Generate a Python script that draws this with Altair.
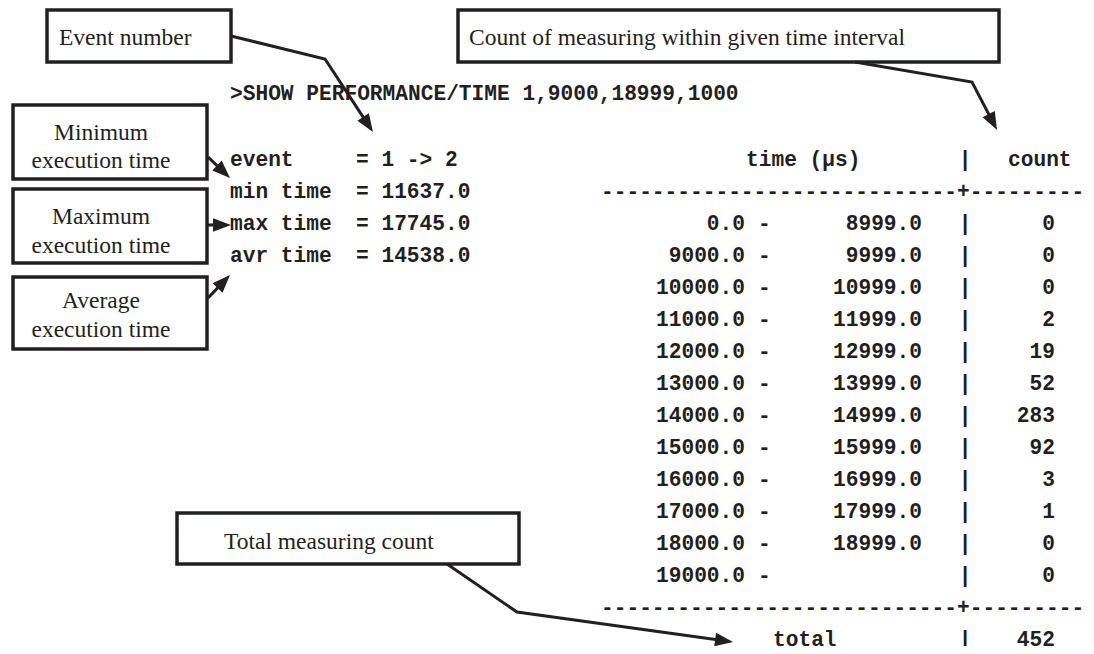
import math
import altair as alt
import pandas as pd

# ---------------- content ----------------
command = ">SHOW PERFORMANCE/TIME 1,9000,18999,1000"
stat_labels = ["event", "min time", "max time", "avr time"]
stat_values = ["= 1 -> 2", "= 11637.0", "= 17745.0", "= 14538.0"]
range_start = ["0.0", "9000.0", "10000.0", "11000.0", "12000.0", "13000.0",
               "14000.0", "15000.0", "16000.0", "17000.0", "18000.0", "19000.0"]
range_end = ["8999.0", "9999.0", "10999.0", "11999.0", "12999.0", "13999.0",
             "14999.0", "15999.0", "16999.0", "17999.0", "18999.0", ""]
counts = [0, 0, 0, 2, 19, 52, 283, 92, 3, 1, 0, 0]
total_label = "total"
total_count = 452
header_time = "time (\u00b5s)"
header_count = "count"
rule_text = "-" * 28 + "+" + "-" * 9

callout_texts = [
    ["Event number"],
    ["Count of measuring within given time interval"],
    ["Minimum", "execution time"],
    ["Maximum", "execution time"],
    ["Average", "execution time"],
    ["Total measuring count"],
]

# ---------------- layout (pixel positions of the page) ----------------
INK = "#231f20"
MONO = "Liberation Mono"
SERIF = "Liberation Serif"
MONO_SIZE = 21.2
SERIF_SIZE = 23.5
Y0, LH = 166, 32  # baseline of first table line, line height

box_geom = [  # x, x2, y, y2
    (47, 231, 10, 62),
    (458, 999, 10, 62),
    (13, 207, 105, 179),
    (13, 207, 189, 263),
    (13, 207, 277, 349),
    (177, 519, 513, 564),
]
callout_text_pos = [  # (x, [baselines], align)
    (59, [45], "left"),
    (469, [45], "left"),
    (101, [140, 168], "center"),
    (101, [224, 253], "center"),
    (101, [308, 337], "center"),
    (224, [549], "left"),
]
arrow_paths = [
    [(231, 36), (325, 59), (373, 132)],
    [(855, 62), (972, 82), (997, 130)],
    [(208, 157), (230, 178)],
    [(207, 225), (231, 225)],
    [(208, 298), (230, 275)],
    [(447, 564), (517, 612), (733, 642)],
]
HEAD_LEN = 18

# ---------------- build tables ----------------
mono_rows = []  # text, x, y, align
mono_rows.append((command, 230, 100, "left"))
for i, (lab, val) in enumerate(zip(stat_labels, stat_values)):
    mono_rows.append((lab, 230, Y0 + LH * i, "left"))
    mono_rows.append((val, 356, Y0 + LH * i, "left"))
mono_rows.append((header_time, 746, Y0, "left"))
mono_rows.append(("|", 965, Y0, "center"))
mono_rows.append((header_count, 1008, Y0, "left"))
mono_rows.append((rule_text, 601, Y0 + LH, "left"))
for i, (s, e, c) in enumerate(zip(range_start, range_end, counts)):
    yy = Y0 + LH * (2 + i)
    mono_rows.append((s, 745, yy, "right"))
    mono_rows.append(("-", 758, yy, "left"))
    if e:
        mono_rows.append((e, 922, yy, "right"))
    mono_rows.append(("|", 965, yy, "center"))
    mono_rows.append((str(c), 1055, yy, "right"))
n = len(range_start)
mono_rows.append((rule_text, 601, Y0 + LH * (2 + n), "left"))
mono_rows.append((total_label, 773, Y0 + LH * (3 + n), "left"))
mono_rows.append(("|", 965, Y0 + LH * (3 + n), "center"))
mono_rows.append((str(total_count), 1055, Y0 + LH * (3 + n), "right"))
mono_df = pd.DataFrame(mono_rows, columns=["text", "x", "y", "align"])

serif_rows = []
for lines, (x, ys, al) in zip(callout_texts, callout_text_pos):
    for t, yy in zip(lines, ys):
        serif_rows.append((t, x, yy, al))
serif_df = pd.DataFrame(serif_rows, columns=["text", "x", "y", "align"])

box_df = pd.DataFrame(box_geom, columns=["x", "x2", "y", "y2"])

line_rows, head_rows = [], []
for k, pts in enumerate(arrow_paths):
    (ax, ay), (bx, by) = pts[-2], pts[-1]
    dx, dy = bx - ax, by - ay
    L = math.hypot(dx, dy)
    ux, uy = dx / L, dy / L
    shortened = pts[:-1] + [(bx - ux * (HEAD_LEN - 4), by - uy * (HEAD_LEN - 4))]
    for j, (px, py) in enumerate(shortened):
        line_rows.append((k, j, px, py))
    ang = math.degrees(math.atan2(dx, -dy)) % 360
    head_rows.append((bx, by, ang))
line_df = pd.DataFrame(line_rows, columns=["id", "seq", "x", "y"])
head_df = pd.DataFrame(head_rows, columns=["x", "y", "angle"])

# ---------------- chart ----------------
xs = alt.Scale(domain=[8, 1086], nice=False, zero=False)
ys = alt.Scale(domain=[8, 646], nice=False, zero=False, reverse=True)
X = alt.X("x:Q", scale=xs, axis=None)
Y = alt.Y("y:Q", scale=ys, axis=None)

boxes = alt.Chart(box_df).mark_rect(fill="white", stroke=INK, strokeWidth=3.5).encode(
    x=X, x2="x2:Q", y=Y, y2="y2:Q")

lines = alt.Chart(line_df).mark_line(color=INK, strokeWidth=3, strokeJoin="miter").encode(
    x=X, y=Y, detail="id:N", order=alt.Order("seq:Q"))

heads = alt.Chart(head_df).mark_point(
    shape="M0,0L-0.38,1L0.38,1Z", filled=True, color=INK, opacity=1,
    size=(2 * HEAD_LEN) ** 2, strokeWidth=0).encode(
    x=X, y=Y, angle=alt.Angle("angle:Q", scale=None))

layers = [boxes, lines, heads]
for al in ["left", "right", "center"]:
    sub = mono_df[mono_df["align"] == al]
    if len(sub):
        layers.append(alt.Chart(sub).mark_text(
            font=MONO, fontSize=MONO_SIZE, fontWeight="bold", color=INK,
            align=al, baseline="alphabetic").encode(x=X, y=Y, text="text:N"))
    sub2 = serif_df[serif_df["align"] == al]
    if len(sub2):
        layers.append(alt.Chart(sub2).mark_text(
            font=SERIF, fontSize=SERIF_SIZE, color=INK,
            align=al, baseline="alphabetic").encode(x=X, y=Y, text="text:N"))

chart = alt.layer(*layers).properties(
    width=1078, height=638, padding=0,
    autosize=alt.AutoSizeParams(type="none"),
    background="white",
).configure_view(stroke=None)

chart.save("out.html", embed_options={"renderer": "svg", "actions": False})
